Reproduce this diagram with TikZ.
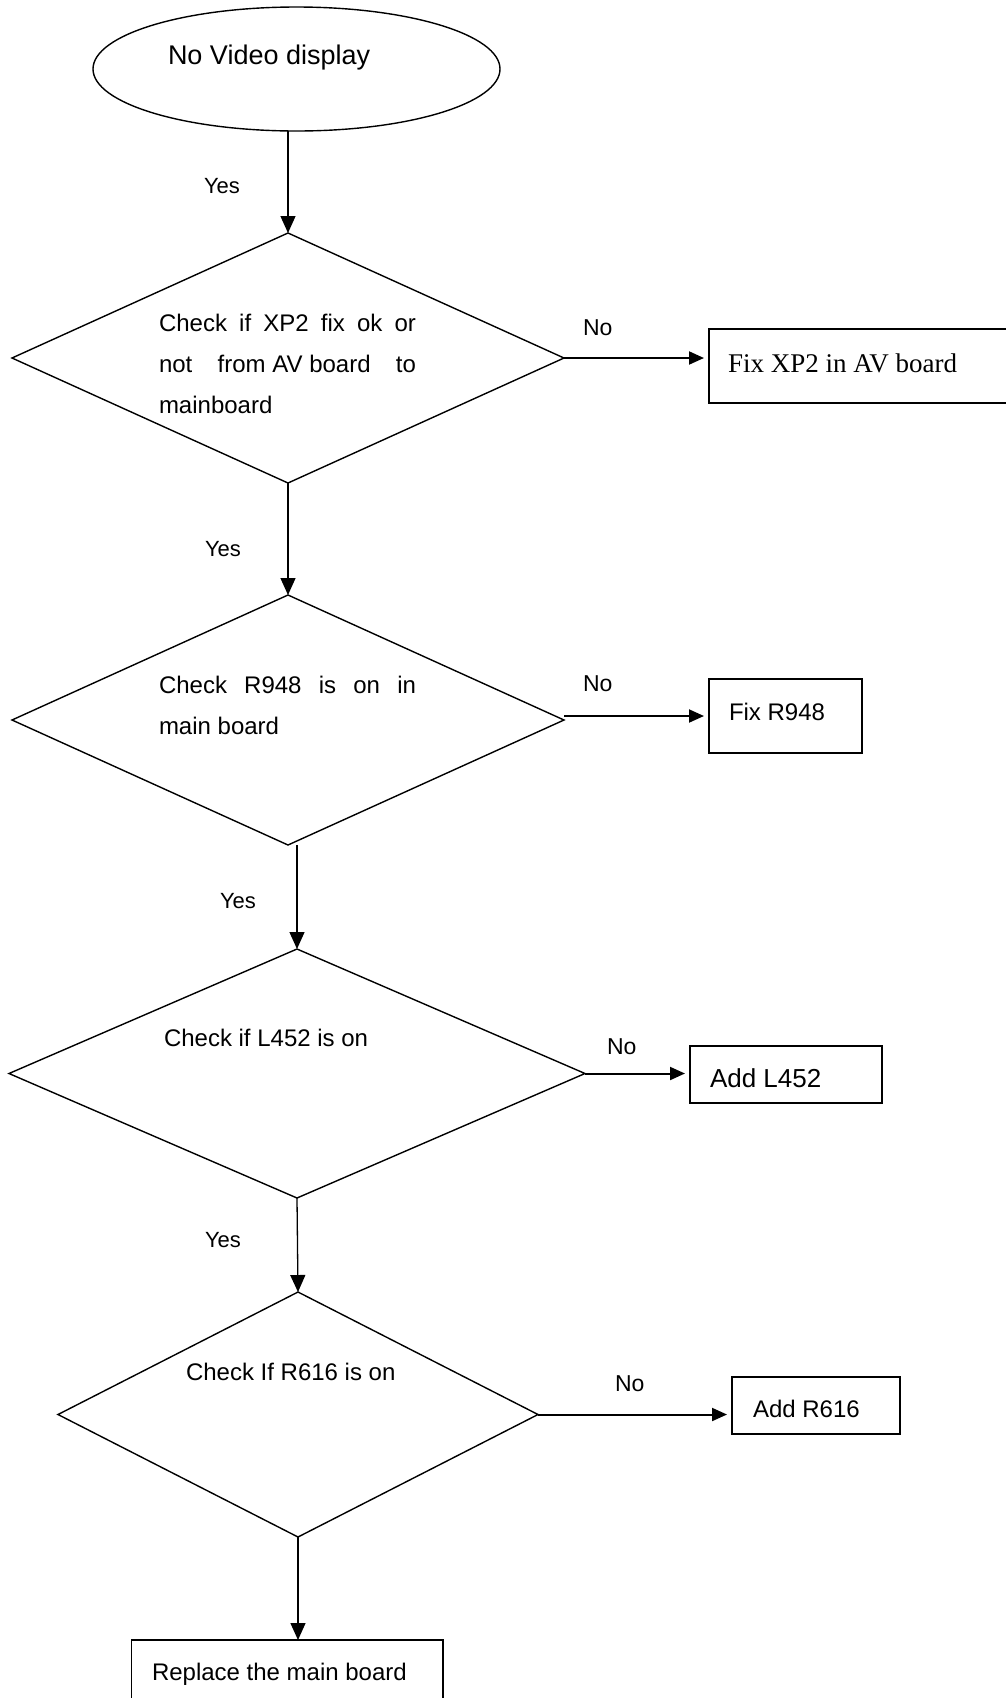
\documentclass[tikz,border=0pt]{standalone}
\usepackage{fontspec}
\setmainfont{Liberation Sans}
\newfontfamily\seriffont{Liberation Serif}
\usetikzlibrary{shapes.geometric,arrows.meta}
\begin{document}
\begin{tikzpicture}[x=1pt,y=-1pt,
  shapeline/.style={draw=black,line width=1.4pt,inner sep=0pt,outer sep=0pt},
  dia/.style={shapeline,diamond},
  ell/.style={shapeline,ellipse},
  boxn/.style={shapeline,rectangle},
  txt/.style={inner sep=0pt,outer sep=0pt,anchor=base west},
  lbl/.style={txt,font=\fontsize{22}{26}\selectfont},
  body/.style={txt,font=\fontsize{24}{28}\selectfont},
  varr/.style={line width=1.3pt,-{Triangle[length=17pt,width=15pt]}},
  harr/.style={line width=2pt,-{Triangle[length=15pt,width=13pt]},shorten >=5pt}]
\useasboundingbox (0,0) rectangle (1006,1698);
\fill[white] (0,0) rectangle (1006,1698);
\clip (0,0) rectangle (1006,1698);

% shapes
\node[ell,minimum width=407pt,minimum height=124pt] (ell) at (296.5,69) {};
\node[dia,minimum width=552pt,minimum height=250pt] (d1) at (288,358) {};
\node[dia,minimum width=552pt,minimum height=250pt] (d2) at (288,720) {};
\node[dia,minimum width=576pt,minimum height=249pt] (d3) at (297,1073.5) {};
\node[dia,minimum width=480pt,minimum height=245pt] (d4) at (298,1414.5) {};
\node[boxn,minimum width=336pt,minimum height=74pt] (b1) at (877,366) {};
\node[boxn,minimum width=153pt,minimum height=74pt] (b2) at (785.5,716) {};
\node[boxn,minimum width=192pt,minimum height=57pt] (b3) at (786,1074.5) {};
\node[boxn,minimum width=168pt,minimum height=57pt] (b4) at (816,1405.5) {};
\node[boxn,minimum width=311.5pt,minimum height=70pt] (b5) at (287.25,1675) {};

% texts
\node[txt,font=\fontsize{27}{32}\selectfont] (ellt) at (168,64) {No Video display};
\node[body] (d1t1) at (159,331) {\makebox[257pt][s]{Check if XP2 fix ok or}};
\node[body] (d1t2) at (159,372) {\makebox[257pt]{not\hfill from AV board\hfill to}};
\node[body] (d1t3) at (159,413) {mainboard};
\node[body] (d2t1) at (159,693) {\makebox[257pt][s]{Check R948 is on in}};
\node[body] (d2t2) at (159,734) {main board};
\node[body] (d3t) at (164,1046) {Check if L452 is on};
\node[body] (d4t) at (186,1380) {Check If R616 is on};
\node[txt,font=\seriffont\fontsize{27}{32}\selectfont] (b1t) at (728,372) {Fix XP2 in AV board};
\node[body] (b2t) at (729,720) {Fix R948};
\node[txt,font=\fontsize{26}{30}\selectfont] (b3t) at (710,1087) {Add L452};
\node[body] (b4t) at (753,1417) {Add R616};
\node[body] (b5t) at (152,1680) {Replace the main board};

% labels
\node[lbl] (y0) at (204,193) {Yes};
\node[lbl] (y1) at (205,556) {Yes};
\node[lbl] (y2) at (220,908) {Yes};
\node[lbl] (y3) at (205,1247) {Yes};
\node[lbl,font=\fontsize{23}{27}\selectfont] (n1) at (583,335) {No};
\node[lbl,font=\fontsize{23}{27}\selectfont] (n2) at (583,691) {No};
\node[lbl,font=\fontsize{23}{27}\selectfont] (n3) at (607,1054) {No};
\node[lbl,font=\fontsize{23}{27}\selectfont] (n4) at (615,1391) {No};

% connectors
\draw[varr] (d1.north |- ell.south) -- (d1.north);
\draw[varr] (d1.south) -- (d2.north);
\draw[varr] (d3.north |- d2.south) -- (d3.north);
\draw[varr] (d3.south) -- (d4.north);
\draw[varr] (d4.south) -- (d4.south |- b5.north);
\draw[harr] (d1.east) -- (d1.east -| b1.west);
\draw[harr] (d2.east |- b2.west) -- (b2.west);
\draw[harr] (d3.east) -- (d3.east -| b3.west);
\draw[harr] (d4.east) -- (d4.east -| b4.west);
\end{tikzpicture}
\end{document}
